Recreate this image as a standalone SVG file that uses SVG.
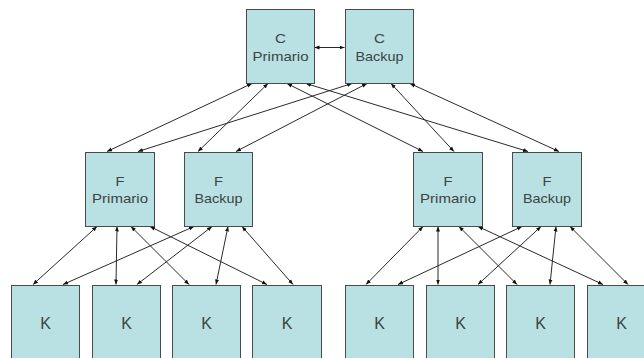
<svg xmlns="http://www.w3.org/2000/svg" width="644" height="358" viewBox="0 0 644 358">
<style>
.box{fill:#b9e0e2;stroke:#4a4a4a;stroke-width:1}
.t{font-family:"Liberation Sans",Arial,sans-serif;font-size:12.6px;fill:#3c4444;text-anchor:middle}
.k{font-family:"Liberation Sans",Arial,sans-serif;font-size:16px;fill:#3c4444;text-anchor:middle}
.c line{stroke:#2a2a2a;stroke-width:1;marker-start:url(#a);marker-end:url(#a)}
</style>
<defs>
<marker id="a" viewBox="0 0 10 10" refX="10" refY="5" markerWidth="5" markerHeight="5" markerUnits="userSpaceOnUse" orient="auto-start-reverse">
<path d="M0,1 L10,5 L0,9 Z" fill="#111"/>
</marker>
</defs>
<rect width="644" height="358" fill="#fff"/>
<g id="connectors" class="c">
<line x1="314.5" y1="47.5" x2="344.5" y2="47.5"/>
<line x1="252" y1="83.5" x2="107" y2="151.5"/>
<line x1="268" y1="83.5" x2="198" y2="151.5"/>
<line x1="287" y1="83.5" x2="423" y2="151.5"/>
<line x1="306" y1="83.5" x2="528" y2="151.5"/>
<line x1="352" y1="83.5" x2="138" y2="151.5"/>
<line x1="367" y1="83.5" x2="236" y2="151.5"/>
<line x1="391" y1="83.5" x2="454" y2="151.5"/>
<line x1="410" y1="83.5" x2="559" y2="151.5"/>
<line x1="97" y1="226.5" x2="33" y2="284.5"/>
<line x1="117" y1="226.5" x2="116" y2="284.5"/>
<line x1="131" y1="226.5" x2="189" y2="284.5"/>
<line x1="150" y1="226.5" x2="267" y2="284.5"/>
<line x1="194" y1="226.5" x2="63" y2="284.5"/>
<line x1="212" y1="226.5" x2="137" y2="284.5"/>
<line x1="228" y1="226.5" x2="216" y2="284.5"/>
<line x1="242" y1="226.5" x2="293" y2="284.5"/>
<line x1="423" y1="226.5" x2="366" y2="284.5"/>
<line x1="438" y1="226.5" x2="438" y2="284.5"/>
<line x1="459" y1="226.5" x2="517" y2="284.5"/>
<line x1="478" y1="226.5" x2="603" y2="284.5"/>
<line x1="522" y1="226.5" x2="398" y2="284.5"/>
<line x1="541" y1="226.5" x2="478" y2="284.5"/>
<line x1="556" y1="226.5" x2="550" y2="284.5"/>
<line x1="570" y1="226.5" x2="628" y2="284.5"/>
</g>
<g id="c-primario"><rect class="box" x="246.5" y="9.5" width="68" height="74"/><text class="t" x="280.5" y="42.5" textLength="11" lengthAdjust="spacingAndGlyphs">C</text><text class="t" x="280.5" y="60.5" textLength="56" lengthAdjust="spacingAndGlyphs">Primario</text></g>
<g id="c-backup"><rect class="box" x="345.5" y="9.5" width="68" height="74"/><text class="t" x="379.5" y="42.5" textLength="11" lengthAdjust="spacingAndGlyphs">C</text><text class="t" x="379.5" y="60.5" textLength="48" lengthAdjust="spacingAndGlyphs">Backup</text></g>
<g id="f-primario-1"><rect class="box" x="85.5" y="152.5" width="69" height="74"/><text class="t" x="120" y="185.7" textLength="9" lengthAdjust="spacingAndGlyphs">F</text><text class="t" x="120" y="202.7" textLength="56" lengthAdjust="spacingAndGlyphs">Primario</text></g>
<g id="f-backup-1"><rect class="box" x="184.5" y="152.5" width="68" height="74"/><text class="t" x="218.5" y="185.7" textLength="9" lengthAdjust="spacingAndGlyphs">F</text><text class="t" x="218.5" y="202.7" textLength="48" lengthAdjust="spacingAndGlyphs">Backup</text></g>
<g id="f-primario-2"><rect class="box" x="413.5" y="152.5" width="69" height="74"/><text class="t" x="448" y="185.7" textLength="9" lengthAdjust="spacingAndGlyphs">F</text><text class="t" x="448" y="202.7" textLength="56" lengthAdjust="spacingAndGlyphs">Primario</text></g>
<g id="f-backup-2"><rect class="box" x="512.5" y="152.5" width="69" height="74"/><text class="t" x="547" y="185.7" textLength="9" lengthAdjust="spacingAndGlyphs">F</text><text class="t" x="547" y="202.7" textLength="48" lengthAdjust="spacingAndGlyphs">Backup</text></g>
<g id="k1"><rect class="box" x="11.5" y="285.5" width="68" height="80"/><text class="k" x="45.5" y="329">K</text></g>
<g id="k2"><rect class="box" x="92.5" y="285.5" width="68" height="80"/><text class="k" x="126.5" y="329">K</text></g>
<g id="k3"><rect class="box" x="172.5" y="285.5" width="68" height="80"/><text class="k" x="206.5" y="329">K</text></g>
<g id="k4"><rect class="box" x="252.5" y="285.5" width="69" height="80"/><text class="k" x="287" y="329">K</text></g>
<g id="k5"><rect class="box" x="345.5" y="285.5" width="68" height="80"/><text class="k" x="379.5" y="329">K</text></g>
<g id="k6"><rect class="box" x="426.5" y="285.5" width="68" height="80"/><text class="k" x="460.5" y="329">K</text></g>
<g id="k7"><rect class="box" x="506.5" y="285.5" width="68" height="80"/><text class="k" x="540.5" y="329">K</text></g>
<g id="k8"><rect class="box" x="587.5" y="285.5" width="68" height="80"/><text class="k" x="621.5" y="329">K</text></g>
</svg>
